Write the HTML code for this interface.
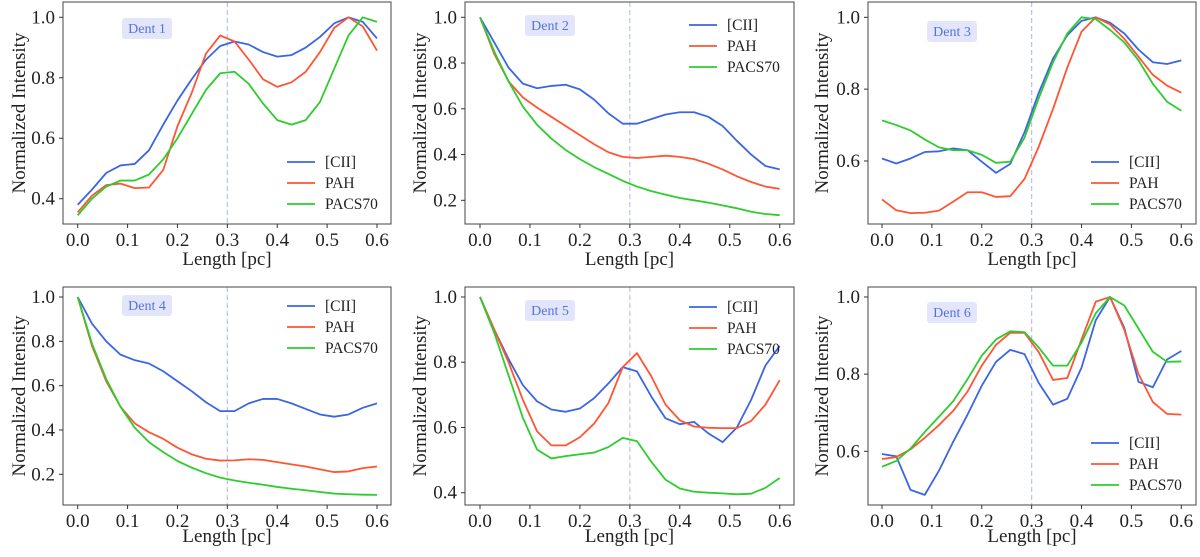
<!DOCTYPE html>
<html><head><meta charset="utf-8">
<style>
body{margin:0;background:#fff;}
svg{display:block;font-family:"Liberation Serif",serif;}
</style></head>
<body>
<svg id="fig" width="1200" height="557" viewBox="0 0 1200 557" xmlns="http://www.w3.org/2000/svg"></svg>
<script>
const xTicks = [0,0.1,0.2,0.3,0.4,0.5,0.6];
const nPts = 22;
const seriesNames = ["[CII]","PAH","PACS70"];
const panelTitles = ["Dent 1","Dent 2","Dent 3","Dent 4","Dent 5","Dent 6"];
const yTicks1=[0.4,0.6,0.8,1.0], yTicks2=[0.2,0.4,0.6,0.8,1.0], yTicks3=[0.6,0.8,1.0];
const yTicks4=[0.2,0.4,0.6,0.8,1.0], yTicks5=[0.4,0.6,0.8,1.0], yTicks6=[0.6,0.8,1.0];
const cii1=[0.38,0.43,0.485,0.51,0.515,0.56,0.645,0.725,0.795,0.86,0.905,0.92,0.91,0.885,0.87,0.875,0.9,0.935,0.98,1.0,0.985,0.93];
const pah1=[0.355,0.41,0.445,0.45,0.435,0.437,0.495,0.64,0.75,0.88,0.94,0.92,0.86,0.795,0.77,0.785,0.82,0.885,0.965,1.0,0.97,0.89];
const pacs1=[0.345,0.4,0.44,0.46,0.46,0.48,0.53,0.6,0.68,0.76,0.815,0.82,0.78,0.715,0.66,0.645,0.66,0.72,0.83,0.94,1.0,0.985];
const cii2=[1.0,0.89,0.78,0.71,0.69,0.70,0.705,0.685,0.64,0.58,0.535,0.535,0.555,0.575,0.585,0.585,0.565,0.525,0.46,0.4,0.35,0.335];
const pah2=[1.0,0.84,0.72,0.65,0.605,0.565,0.525,0.485,0.445,0.41,0.39,0.385,0.39,0.395,0.39,0.38,0.36,0.335,0.305,0.28,0.26,0.25];
const pacs2=[1.0,0.85,0.72,0.61,0.53,0.47,0.42,0.38,0.345,0.315,0.285,0.26,0.24,0.225,0.21,0.2,0.19,0.178,0.165,0.15,0.14,0.135];
const cii3=[0.607,0.593,0.607,0.625,0.627,0.635,0.63,0.598,0.567,0.592,0.68,0.79,0.885,0.95,0.99,1.0,0.985,0.955,0.91,0.875,0.87,0.88];
const pah3=[0.493,0.463,0.455,0.456,0.462,0.487,0.513,0.513,0.5,0.502,0.55,0.64,0.745,0.86,0.96,1.0,0.98,0.94,0.89,0.84,0.81,0.79];
const pacs3=[0.713,0.7,0.685,0.66,0.638,0.63,0.63,0.617,0.595,0.598,0.665,0.775,0.875,0.955,1.0,0.995,0.965,0.93,0.88,0.815,0.765,0.74];
const cii4=[1.0,0.88,0.8,0.74,0.715,0.7,0.665,0.62,0.575,0.525,0.485,0.485,0.52,0.54,0.54,0.52,0.495,0.47,0.46,0.47,0.5,0.52];
const pah4=[1.0,0.78,0.62,0.505,0.43,0.39,0.36,0.32,0.29,0.27,0.262,0.263,0.268,0.265,0.255,0.245,0.235,0.222,0.21,0.213,0.228,0.235];
const pacs4=[1.0,0.79,0.63,0.505,0.41,0.345,0.3,0.26,0.23,0.205,0.185,0.172,0.162,0.153,0.143,0.135,0.128,0.12,0.113,0.11,0.108,0.107];
const cii5=[1.0,0.9,0.81,0.73,0.68,0.655,0.648,0.658,0.69,0.735,0.785,0.772,0.695,0.628,0.61,0.617,0.582,0.555,0.6,0.685,0.79,0.85];
const pah5=[1.0,0.9,0.8,0.685,0.588,0.545,0.545,0.57,0.612,0.675,0.785,0.828,0.757,0.67,0.622,0.603,0.599,0.598,0.598,0.62,0.67,0.745];
const pacs5=[1.0,0.89,0.76,0.63,0.532,0.505,0.512,0.518,0.523,0.54,0.568,0.558,0.495,0.44,0.413,0.403,0.4,0.398,0.395,0.397,0.415,0.445];
const cii6=[0.593,0.587,0.5,0.487,0.55,0.625,0.695,0.77,0.832,0.863,0.852,0.777,0.721,0.736,0.817,0.94,1.0,0.92,0.78,0.766,0.838,0.86];
const pah6=[0.58,0.585,0.605,0.635,0.668,0.705,0.755,0.822,0.876,0.907,0.907,0.857,0.785,0.79,0.89,0.988,1.0,0.915,0.8,0.728,0.697,0.695];
const pacs6=[0.56,0.575,0.607,0.65,0.69,0.73,0.787,0.848,0.89,0.911,0.909,0.869,0.822,0.822,0.882,0.958,1.0,0.978,0.918,0.858,0.832,0.833];

const colors=["#3b66e3","#ff5533","#2ecc2e"];
const NS="http://www.w3.org/2000/svg";
const svg=document.getElementById('fig');
function mk(tag,attrs,parent,text){const e=document.createElementNS(NS,tag);for(const k in attrs)e.setAttribute(k,attrs[k]);if(text!==undefined)e.textContent=text;(parent||svg).appendChild(e);return e;}

const panels=[
 {box:[63,2,391,224],x0:77.7,x1:377,ya:[1.0,17.3],yb:[0.4,198.7],yt:yTicks1,data:[cii1,pah1,pacs1],leg:[287,162],lab:[147,28],ytx:18,xty:265},
 {box:[465,2,794,224],x0:480,x1:779.7,ya:[1.0,17.3],yb:[0.2,200.3],yt:yTicks2,data:[cii2,pah2,pacs2],leg:[689,25],lab:[550,25],ytx:419,xty:265},
 {box:[868,2,1196,224],x0:882,x1:1181.3,ya:[1.0,17.3],yb:[0.6,161],yt:yTicks3,data:[cii3,pah3,pacs3],leg:[1091,162],lab:[952,31],ytx:821,xty:265},
 {box:[63,287,391,505],x0:77.7,x1:377,ya:[1.0,297],yb:[0.2,474.3],yt:yTicks4,data:[cii4,pah4,pacs4],leg:[287,306],lab:[147,305],ytx:18,xty:542},
 {box:[465,287,794,505],x0:480,x1:779.7,ya:[1.0,297],yb:[0.4,492.7],yt:yTicks5,data:[cii5,pah5,pacs5],leg:[689,307],lab:[550,310],ytx:419,xty:542},
 {box:[868,287,1196,505],x0:882,x1:1181.3,ya:[1.0,297],yb:[0.6,451.3],yt:yTicks6,data:[cii6,pah6,pacs6],leg:[1091,443],lab:[952,312],ytx:821,xty:542}
];
const keys=["cii","pah","pacs70"];
panels.forEach((p,pi)=>{
  const g=mk('g',{});
  
  
  const X=v=>p.x0+(v/0.6)*(p.x1-p.x0);
  const Y=v=>p.ya[1]+(v-p.ya[0])*(p.yb[1]-p.ya[1])/(p.yb[0]-p.ya[0]);
  const [l,t,r,b]=p.box;
  const dl=mk('line',{x1:X(0.3),x2:X(0.3),y1:t,y2:b,stroke:"#b8c2ee","stroke-width":1.2,"stroke-dasharray":"5,3"},g);
  
  
  p.data.forEach((arr,si)=>{
    const pts=arr.map((v,i)=>X(i*0.6/(nPts-1)).toFixed(2)+","+Y(v).toFixed(2)).join(" ");
    const pl=mk('polyline',{points:pts,fill:"none",stroke:colors[si],"stroke-width":1.8,"stroke-linejoin":"round"},g);
    
    
  });
  const fr=mk('rect',{x:l,y:t,width:r-l,height:b-t,fill:"none",stroke:"#444","stroke-width":1},g);
  
  
  xTicks.forEach(v=>{
    mk('line',{x1:X(v),x2:X(v),y1:b,y2:b+4,stroke:"#333"},g);
    const tx=mk('text',{x:X(v),y:b+22,"text-anchor":"middle","font-size":19,fill:"#222"},g,v.toFixed(1));
    
    
  });
  p.yt.forEach(v=>{
    mk('line',{x1:l-4,x2:l,y1:Y(v),y2:Y(v),stroke:"#333"},g);
    const ty=mk('text',{x:l-8,y:Y(v)+6,"text-anchor":"end","font-size":19,fill:"#222"},g,v.toFixed(1));
    
    
  });
  const xt=mk('text',{x:(l+r)/2,y:p.xty,"text-anchor":"middle","font-size":19,fill:"#222"},g,"Length [pc]");
  
  
  const cy=(t+b)/2;
  const yt=mk('text',{x:p.ytx+7,y:cy,"text-anchor":"middle","font-size":19,fill:"#222",transform:`rotate(-90 ${p.ytx+7} ${cy})`},g,"Normalized Intensity");
  
  
  const lb=mk('g',{},g);
  
  
  mk('rect',{x:p.lab[0]-25,y:p.lab[1]-10,width:50,height:21,rx:3,fill:"#e3e6fb"},lb);
  mk('text',{x:p.lab[0],y:p.lab[1]+5,"text-anchor":"middle","font-size":14,fill:"#5573e0"},lb,panelTitles[pi]);
  const lg=mk('g',{},g);
  
  
  seriesNames.forEach((n,si)=>{
    const yy=p.leg[1]+si*21;
    const e=mk('g',{},lg);
    
    
    mk('line',{x1:p.leg[0],x2:p.leg[0]+28,y1:yy,y2:yy,stroke:colors[si],"stroke-width":1.8},e);
    mk('text',{x:p.leg[0]+38,y:yy+5,"font-size":15.5,fill:"#222"},e,n);
  });
});
</script>
</body></html>
